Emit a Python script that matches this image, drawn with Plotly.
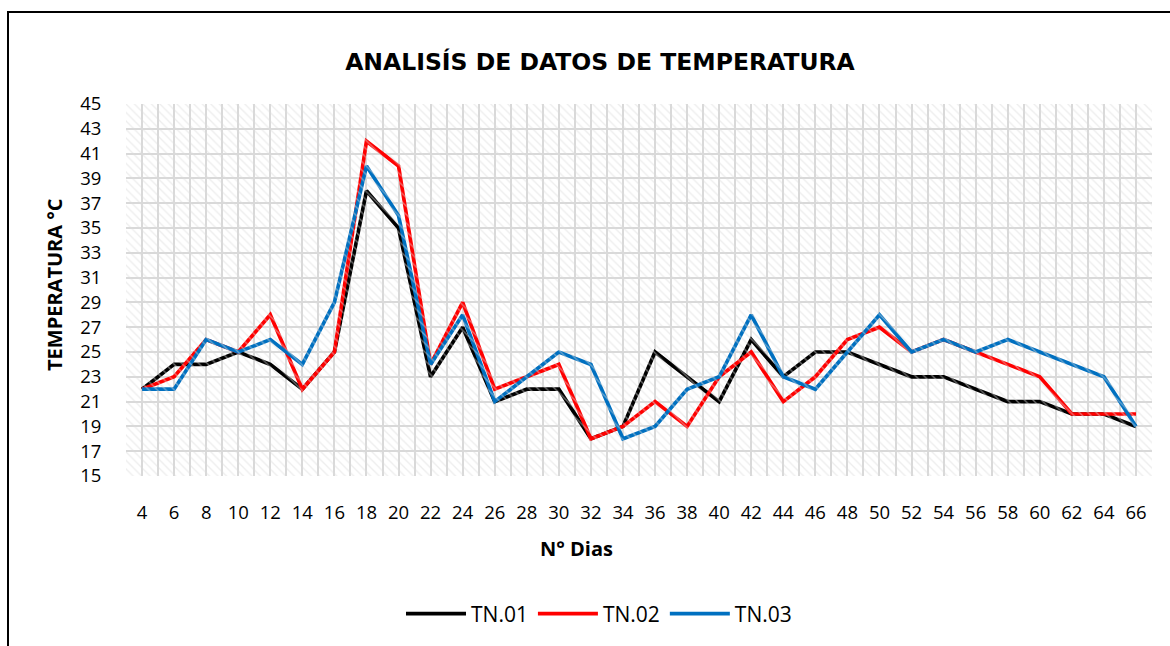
import plotly.graph_objects as go

dias = [4, 6, 8, 10, 12, 14, 16, 18, 20, 22, 24, 26, 28, 30, 32, 34, 36, 38, 40, 42,
        44, 46, 48, 50, 52, 54, 56, 58, 60, 62, 64, 66]
tn01 = [22, 24, 24, 25, 24, 22, 25, 38, 35, 23, 27, 21, 22, 22, 18, 19, 25, 23, 21, 26,
        23, 25, 25, 24, 23, 23, 22, 21, 21, 20, 20, 19]
tn02 = [22, 23, 26, 25, 28, 22, 25, 42, 40, 24, 29, 22, 23, 24, 18, 19, 21, 19, 23, 25,
        21, 23, 26, 27, 25, 26, 25, 24, 23, 20, 20, 20]
tn03 = [22, 22, 26, 25, 26, 24, 29, 40, 36, 24, 28, 21, 23, 25, 24, 18, 19, 22, 23, 28,
        23, 22, 25, 28, 25, 26, 25, 26, 25, 24, 23, 19]
y_ticks = list(range(15, 46, 2))

FONT = "Open Sans"
BOLD = "DejaVu Sans"
L, R, T, B = 126, 18, 104, 170
W, H = 1170, 646
PW, PH = W - L - R, H - T - B

fig = go.Figure()

# hatched plot-area background (decoration on hidden axes)
fig.add_trace(go.Scatter(
    x=[0, 1, 1, 0, 0], y=[0, 0, 1, 1, 0], xaxis="x2", yaxis="y2",
    mode="lines", line=dict(width=0), fill="toself",
    fillcolor="rgba(0,0,0,0)",
    fillpattern=dict(shape="\\", fgcolor="#dcdcdc", bgcolor="rgba(255,255,255,0)",
                     size=6, solidity=0.22),
    hoverinfo="skip", showlegend=False))

series = [("TN.01", tn01, "#000000"), ("TN.02", tn02, "#FF0000"), ("TN.03", tn03, "#0070C0")]
for name, vals, col in series:
    fig.add_trace(go.Scatter(x=dias, y=vals, name=name, mode="lines",
                             line=dict(color=col, width=3.7)))

fig.update_layout(
    width=W, height=H,
    margin=dict(l=L, r=R, t=T, b=B, autoexpand=False),
    paper_bgcolor="white", plot_bgcolor="white",
    font=dict(family=FONT, size=18.5, color="#000000"),
    title=dict(text="<b>ANALISÍS DE DATOS DE TEMPERATURA</b>", x=(600 - L) / PW, xref="paper",
               xanchor="center", y=1 - 62 / H, yanchor="middle", yref="container",
               font=dict(family=BOLD, size=23.5, color="#000000")),
    xaxis=dict(range=[3, 67], tickvals=dias, ticktext=[str(d) for d in dias],
               showgrid=True, gridcolor="#d9d9d9", gridwidth=1.5,
               minor=dict(dtick=1, tick0=3, showgrid=True, gridcolor="#d9d9d9", gridwidth=1.5),
               ticks="outside", ticklen=20, tickcolor="rgba(0,0,0,0)",
               zeroline=False, showline=False, automargin=False),
    yaxis=dict(range=[15, 45], tickvals=y_ticks,
               showgrid=True, gridcolor="#d9d9d9", gridwidth=1.5,
               ticks="outside", ticklen=20, tickcolor="rgba(0,0,0,0)",
               zeroline=False, showline=False, automargin=False),
    xaxis2=dict(range=[0, 1], overlaying="x", visible=False, fixedrange=True),
    yaxis2=dict(range=[0, 1], overlaying="y", visible=False, fixedrange=True),
    legend=dict(orientation="h", x=(599 - L) / PW, xanchor="center",
                y=1 - (614 - T) / PH, yanchor="middle",
                font=dict(size=21), itemwidth=60),
    annotations=[
        dict(text="<b>N° Dias</b>", xref="paper", yref="paper",
             x=(576 - L) / PW, y=1 - (548 - T) / PH, xanchor="center", yanchor="middle",
             showarrow=False, font=dict(family=FONT, size=20)),
        dict(text="<b>TEMPERATURA °C</b>", xref="paper", yref="paper", textangle=-90,
             x=(54 - L) / PW, y=1 - (285 - T) / PH, xanchor="center", yanchor="middle",
             showarrow=False, font=dict(family=FONT, size=20)),
    ],
    shapes=[dict(type="rect", xref="paper", yref="paper",
                 x0=(8 - L) / PW, x1=1.3, y0=-0.6, y1=1 + (T - 12) / PH,
                 line=dict(color="#000000", width=2), fillcolor="rgba(0,0,0,0)", layer="below")],
)

fig.write_html("out.html", config={"displayModeBar": False},
               post_script="document.body.style.margin='0px';")
